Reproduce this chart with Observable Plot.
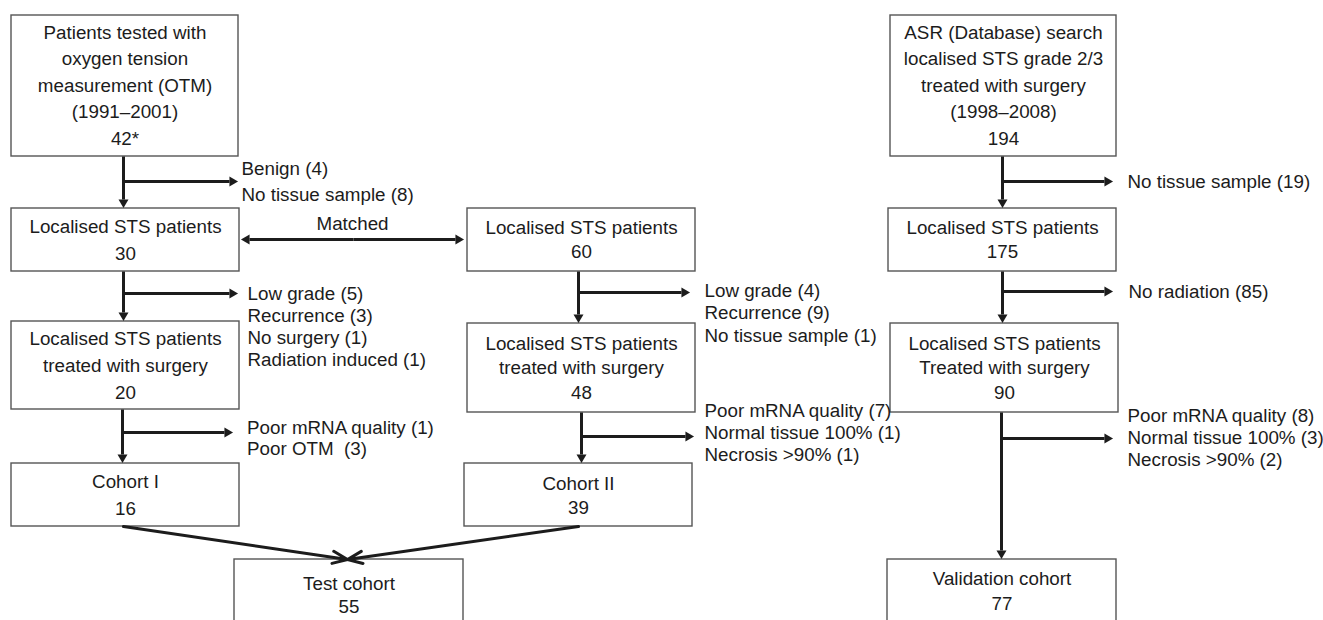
<!DOCTYPE html>
<html>
<head>
<meta charset="utf-8">
<script src="https://cdn.jsdelivr.net/npm/d3@7"></script>
<script src="https://cdn.jsdelivr.net/npm/@observablehq/plot@0.6"></script>
<style>
  html, body { margin: 0; padding: 0; background: #fff; }
  #chart svg { display: block; white-space: pre; }
</style>
</head>
<body>
<div id="chart"></div>
<script>
// ---- Data: box contents (text + counts) ----
const boxTitles = [
  ["Patients tested with", "oxygen tension", "measurement (OTM)", "(1991–2001)"],
  ["Localised STS patients"],
  ["Localised STS patients", "treated with surgery"],
  ["Cohort I"],
  ["Test cohort"],
  ["Localised STS patients"],
  ["Localised STS patients", "treated with surgery"],
  ["Cohort II"],
  ["ASR (Database) search", "localised STS grade 2/3", "treated with surgery", "(1998–2008)"],
  ["Localised STS patients"],
  ["Localised STS patients", "Treated with surgery"],
  ["Validation cohort"]
];
const boxCounts = ["42*", "30", "20", "16", "55", "60", "48", "39", "194", "175", "90", "77"];

// ---- Data: exclusion labels ----
const exclusionLabels = [
  ["Benign (4)", "No tissue sample (8)"],
  ["Low grade (5)", "Recurrence (3)", "No surgery (1)", "Radiation induced (1)"],
  ["Poor mRNA quality (1)", "Poor OTM  (3)"],
  ["Low grade (4)", "Recurrence (9)", "No tissue sample (1)"],
  ["Poor mRNA quality (7)", "Normal tissue 100% (1)", "Necrosis >90% (1)"],
  ["No tissue sample (19)"],
  ["No radiation (85)"],
  ["Poor mRNA quality (8)", "Normal tissue 100% (3)", "Necrosis >90% (2)"]
];
const matchedLabel = "Matched";

// ---- Layout (diagram geometry, px in a 1323x620 frame) ----
// [x1, x2, y1, y2, firstLineY, lineGap]
const boxLayout = [
  [11, 238, 15, 156, 32, 26.5],
  [11, 239, 208, 271, 226, 27],
  [11, 239, 321, 409, 338, 27],
  [11, 239, 463, 526, 481, 27],
  [234, 463, 559, 626, 583, 23.5],
  [467, 695, 208, 271, 227, 24],
  [467, 695, 323, 412, 343, 24.5],
  [464, 692, 463, 526, 483, 24],
  [890, 1116, 15, 156, 32, 26.5],
  [888, 1116, 208, 271, 227, 24],
  [890, 1118, 323, 412, 343, 24.5],
  [887, 1116, 559, 626, 578, 25]
];
// [x, firstLineY, lineGap]
const labelLayout = [
  [241, 168, 26],
  [247, 293, 22],
  [246.5, 427, 21.5],
  [704, 290, 22.5],
  [704, 410, 22],
  [1127, 181, 22],
  [1128, 291, 22],
  [1127, 415, 22]
];
// straight arrows with filled heads: [x1, y1, x2, y2]
const arrowLayout = [
  [123, 156, 123, 208], [123, 271, 123, 321], [122, 409, 122, 463],
  [578, 271, 578, 323], [581, 412, 581, 463],
  [1002, 156, 1002, 208], [1002, 271, 1002, 323], [1001, 412, 1001, 559],
  [123, 181, 238, 181], [123, 293, 238, 293], [122, 432, 233, 432],
  [578, 292, 690, 292], [581, 436, 694, 436],
  [1002, 181, 1113, 181], [1002, 291, 1113, 291], [1001, 438, 1113, 438],
  [353, 239, 240, 239], [353, 239, 464, 239]
];
// converging arrows with open heads
const mergeLayout = [[123, 526, 347, 559], [578, 526, 347, 559]];
const matchedPos = [352, 223];

// ---- Build tables ----
const boxes = boxLayout.map(([x1, x2, y1, y2]) => ({x1, x2, y1, y2}));
const boxLines = [];
boxLayout.forEach(([x1, x2, y1, y2, fy, gap], i) => {
  const lines = [...boxTitles[i], boxCounts[i]];
  lines.forEach((t, j) => boxLines.push({x: (x1 + x2) / 2, y: fy + j * gap, text: t}));
});
const sideLines = [];
labelLayout.forEach(([x, fy, gap], i) => {
  exclusionLabels[i].forEach((t, j) => sideLines.push({x, y: fy + j * gap, text: t}));
});
const HEAD = 10;       // head length
const shafts = [], heads = [];
arrowLayout.forEach(([x1, y1, x2, y2]) => {
  const dx = x2 - x1, dy = y2 - y1, L = Math.hypot(dx, dy);
  const ux = dx / L, uy = dy / L;
  shafts.push({x1, y1, x2: x2 - ux * (HEAD - 1), y2: y2 - uy * (HEAD - 1)});
  const rot = Math.atan2(ux, -uy) * 180 / Math.PI;
  heads.push({x: x2 - ux * HEAD * 0.62, y: y2 - uy * HEAD * 0.62, rotate: rot});
});
const merges = mergeLayout.map(([x1, y1, x2, y2]) => ({x1, y1, x2, y2}));

const ink = "#1c1c1c";
const FS = 18.8;
const chart = Plot.plot({
  width: 1323,
  height: 620,
  margin: 0,
  x: {domain: [0, 1323], range: [0, 1323], axis: null},
  y: {domain: [0, 620], range: [0, 620], axis: null},
  style: {fontFamily: "'Liberation Sans', Arial, Helvetica, sans-serif", background: "#fff"},
  marks: [
    Plot.rect(boxes, {x1: "x1", x2: "x2", y1: "y1", y2: "y2", fill: "none", stroke: "#555", strokeWidth: 1.4}),
    Plot.link(shafts, {x1: "x1", y1: "y1", x2: "x2", y2: "y2", stroke: ink, strokeWidth: 3}),
    Plot.dot(heads, {x: "x", y: "y", rotate: "rotate", symbol: "triangle", r: 3.7, fill: ink, stroke: "none"}),
    Plot.arrow(merges, {x1: "x1", y1: "y1", x2: "x2", y2: "y2", stroke: ink, strokeWidth: 3, headLength: 8, headAngle: 45}),
    Plot.text(boxLines, {x: "x", y: "y", text: "text", fontSize: FS, fill: ink, textAnchor: "middle", lineAnchor: "middle"}),
    Plot.text(sideLines, {x: "x", y: "y", text: "text", fontSize: FS, fill: ink, textAnchor: "start", lineAnchor: "middle"}),
    Plot.text([matchedLabel], {x: () => matchedPos[0], y: () => matchedPos[1], text: d => d, fontSize: FS, fill: ink, textAnchor: "middle", lineAnchor: "middle"})
  ]
});
document.getElementById("chart").appendChild(chart);
</script>
</body>
</html>
